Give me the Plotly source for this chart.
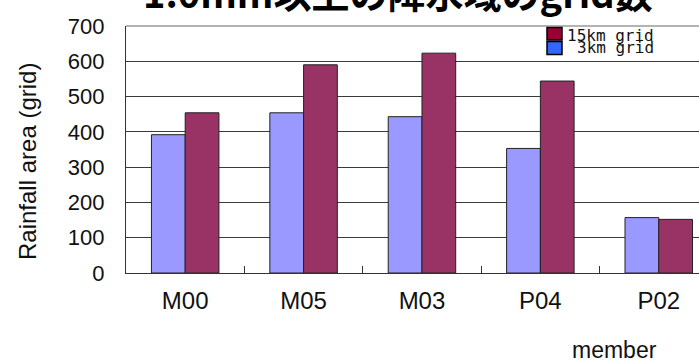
import plotly.graph_objects as go

# Rainfall area (number of grid cells with >= 1.0 mm) per ensemble member
members = ["M00", "M05", "M03", "P04", "P02"]
grid_3km = [392, 454, 443, 353, 157]
grid_15km = [454, 590, 623, 544, 152]
y_ticks = [0, 100, 200, 300, 400, 500, 600, 700]

bar_line = dict(color="#222222", width=1)

fig = go.Figure()
fig.add_trace(go.Bar(x=members, y=grid_3km, name="3km grid",
                     marker=dict(color="#9999FF", line=bar_line), showlegend=False))
fig.add_trace(go.Bar(x=members, y=grid_15km, name="15km grid",
                     marker=dict(color="#993366", line=bar_line), showlegend=False))

W, H = 699, 361
L, R, T, B = 126, 0, 26, 88
pw, ph = W - L - R, H - T - B


def px(x):
    return (x - L) / pw


def py(y):
    return (H - B - y) / ph


fig.update_layout(
    width=W, height=H,
    margin=dict(l=L, r=R, t=T, b=B),
    paper_bgcolor="white", plot_bgcolor="white",
    barmode="group", bargap=0.43, bargroupgap=0,
    font=dict(family="Liberation Sans, Arial, sans-serif", color="#111111"),
)

fig.update_xaxes(
    range=[-0.5, 4.34], showline=True, linecolor="#333333", linewidth=1.3,
    ticks="inside", tickson="boundaries", ticklen=7, tickcolor="#333333", tickwidth=1.3,
    tickfont=dict(size=24, color="#111111"), ticklabelstandoff=6,
    showgrid=False,
)
fig.update_yaxes(
    range=[0, 700], tickvals=y_ticks, showline=True, linecolor="#333333", linewidth=1.3,
    showgrid=True, gridcolor="#3a3a3a", gridwidth=1.2,
    tickfont=dict(size=22, color="#111111"), ticklabelstandoff=16,
    zeroline=False,
)

shapes = [
    # light top border of the plot area
    dict(type="line", xref="paper", yref="paper", x0=0, x1=1, y0=1, y1=1,
         line=dict(color="#9a9a9a", width=1.3), layer="above"),
    # legend swatches
    dict(type="rect", xref="paper", yref="paper",
         x0=px(547), x1=px(562), y0=py(40), y1=py(27.5),
         fillcolor="#990033", line=dict(color="black", width=1.5)),
    dict(type="rect", xref="paper", yref="paper",
         x0=px(547), x1=px(562), y0=py(54.5), y1=py(41.5),
         fillcolor="#3366FF", line=dict(color="black", width=1.5)),
]
fig.update_layout(shapes=shapes)

legend_font = dict(family="DejaVu Sans Mono, monospace", size=16, color="#111111")
annotations = [
    dict(text="15km grid", xref="paper", yref="paper", x=px(656), y=py(35),
         xanchor="right", yanchor="middle", showarrow=False, font=legend_font),
    dict(text="3km grid", xref="paper", yref="paper", x=px(656), y=py(48),
         xanchor="right", yanchor="middle", showarrow=False, font=legend_font),
    dict(text="<b>1.0mm以上の降水域のgrid数</b>", xref="paper", yref="paper",
         x=px(398), y=py(-9), xanchor="center", yanchor="middle", showarrow=False,
         font=dict(family="Noto Sans CJK JP", size=38, color="black")),
    dict(text="Rainfall area (grid)", xref="paper", yref="paper",
         x=px(27), y=py(162), xanchor="center", yanchor="middle", textangle=-90,
         showarrow=False, font=dict(size=24, color="#111111")),
    dict(text="member", xref="paper", yref="paper",
         x=px(614), y=py(350), xanchor="center", yanchor="middle",
         showarrow=False, font=dict(size=23, color="#111111")),
]
fig.update_layout(annotations=annotations)

fig.write_html("out.html")
